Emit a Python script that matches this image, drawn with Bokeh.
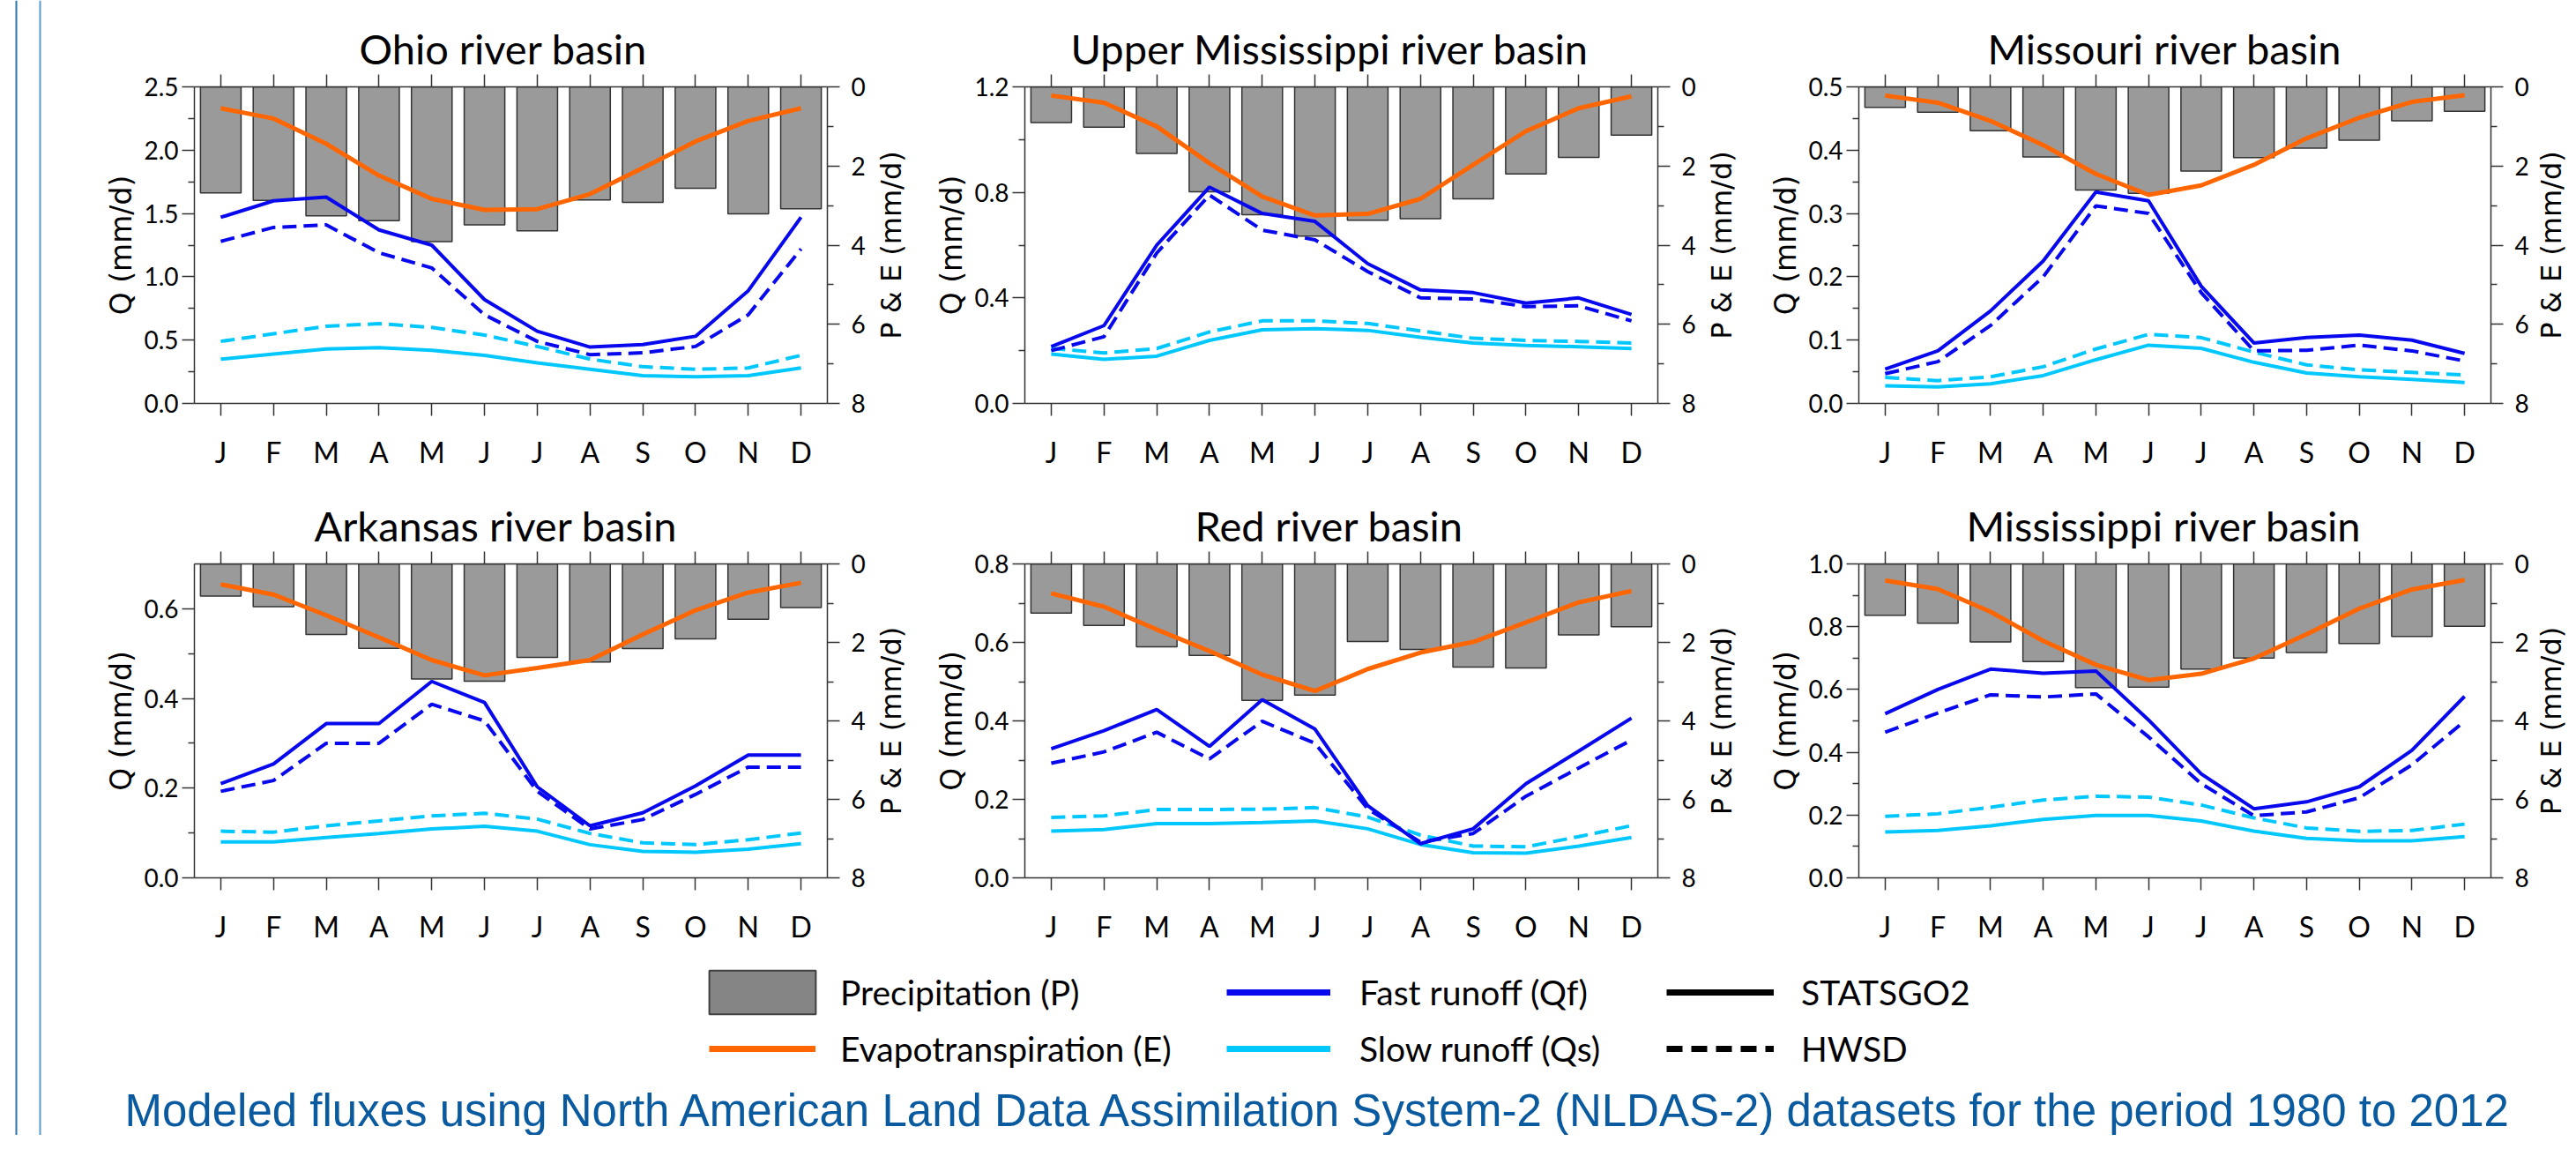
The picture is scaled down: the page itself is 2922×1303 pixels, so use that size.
from bokeh.plotting import figure
from bokeh.models import (Range1d, LinearAxis, FixedTicker, Span, Legend, LegendItem,
                          Title, NumeralTickFormatter)
from bokeh.layouts import row, column
from bokeh.embed import file_html
from bokeh.resources import INLINE

# ---------------- data ----------------
months = list(range(1, 13))
month_labels = ["J", "F", "M", "A", "M", "J", "J", "A", "S", "O", "N", "D"]

basin_names = ["Ohio river basin", "Upper Mississippi river basin", "Missouri river basin",
               "Arkansas river basin", "Red river basin", "Mississippi river basin"]
q_axis_max = [2.5, 1.2, 0.5, 0.7, 0.8, 1.0]
q_axis_step = [0.5, 0.4, 0.1, 0.2, 0.2, 0.2]
pe_ticks = [0, 2, 4, 6, 8]
pe_minor_ticks = [1, 3, 5, 7]

ohio_P = [2.68, 2.87, 3.26, 3.38, 3.91, 3.49, 3.64, 2.86, 2.92, 2.56, 3.21, 3.08]
ohio_E = [0.54, 0.80, 1.44, 2.24, 2.83, 3.11, 3.09, 2.71, 2.05, 1.38, 0.86, 0.54]
ohio_Qf_statsgo = [1.47, 1.60, 1.63, 1.37, 1.25, 0.82, 0.57, 0.445, 0.465, 0.53, 0.89, 1.47]
ohio_Qf_hwsd = [1.28, 1.39, 1.41, 1.19, 1.07, 0.70, 0.49, 0.385, 0.40, 0.45, 0.70, 1.22]
ohio_Qs_statsgo = [0.35, 0.39, 0.43, 0.44, 0.42, 0.38, 0.32, 0.27, 0.22, 0.21, 0.22, 0.28]
ohio_Qs_hwsd = [0.49, 0.55, 0.61, 0.63, 0.60, 0.54, 0.45, 0.35, 0.29, 0.27, 0.28, 0.38]

umiss_P = [0.90, 1.02, 1.68, 2.65, 3.23, 3.77, 3.37, 3.33, 2.83, 2.20, 1.78, 1.22]
umiss_E = [0.22, 0.40, 1.00, 1.93, 2.77, 3.25, 3.21, 2.83, 1.97, 1.12, 0.54, 0.24]
umiss_Qf_statsgo = [0.215, 0.295, 0.60, 0.82, 0.72, 0.69, 0.53, 0.43, 0.42, 0.38, 0.40, 0.337]
umiss_Qf_hwsd = [0.20, 0.253, 0.57, 0.79, 0.657, 0.62, 0.50, 0.40, 0.396, 0.367, 0.37, 0.313]
umiss_Qs_statsgo = [0.187, 0.167, 0.179, 0.239, 0.279, 0.283, 0.277, 0.251, 0.229, 0.220, 0.215, 0.208]
umiss_Qs_hwsd = [0.209, 0.191, 0.208, 0.271, 0.313, 0.313, 0.303, 0.275, 0.247, 0.239, 0.235, 0.229]

missouri_P = [0.52, 0.64, 1.11, 1.77, 2.61, 2.69, 2.13, 1.79, 1.55, 1.35, 0.86, 0.62]
missouri_E = [0.22, 0.40, 0.86, 1.47, 2.20, 2.73, 2.49, 1.97, 1.30, 0.78, 0.38, 0.21]
missouri_Qf_statsgo = [0.054, 0.083, 0.146, 0.225, 0.334, 0.320, 0.185, 0.0955, 0.104, 0.108, 0.100, 0.079]
missouri_Qf_hwsd = [0.047, 0.066, 0.123, 0.200, 0.312, 0.300, 0.175, 0.083, 0.084, 0.092, 0.083, 0.067]
missouri_Qs_statsgo = [0.028, 0.026, 0.031, 0.044, 0.069, 0.092, 0.087, 0.065, 0.048, 0.042, 0.038, 0.033]
missouri_Qs_hwsd = [0.041, 0.036, 0.042, 0.058, 0.086, 0.109, 0.104, 0.081, 0.061, 0.053, 0.049, 0.045]

arkansas_P = [0.82, 1.09, 1.80, 2.15, 2.93, 2.99, 2.38, 2.50, 2.16, 1.91, 1.41, 1.11]
arkansas_E = [0.52, 0.78, 1.31, 1.87, 2.45, 2.84, 2.65, 2.45, 1.80, 1.18, 0.73, 0.48]
arkansas_Qf_statsgo = [0.210, 0.254, 0.344, 0.344, 0.438, 0.391, 0.203, 0.116, 0.145, 0.205, 0.274, 0.274]
arkansas_Qf_hwsd = [0.193, 0.217, 0.300, 0.300, 0.387, 0.350, 0.193, 0.109, 0.130, 0.186, 0.247, 0.247]
arkansas_Qs_statsgo = [0.080, 0.080, 0.090, 0.099, 0.109, 0.115, 0.104, 0.074, 0.059, 0.057, 0.064, 0.076]
arkansas_Qs_hwsd = [0.104, 0.102, 0.116, 0.127, 0.138, 0.144, 0.131, 0.099, 0.078, 0.074, 0.085, 0.100]

red_P = [1.25, 1.57, 2.11, 2.33, 3.48, 3.34, 1.98, 2.18, 2.63, 2.65, 1.81, 1.60]
red_E = [0.75, 1.09, 1.67, 2.22, 2.82, 3.24, 2.68, 2.26, 1.99, 1.49, 0.98, 0.69]
red_Qf_statsgo = [0.329, 0.375, 0.429, 0.335, 0.454, 0.379, 0.184, 0.087, 0.125, 0.240, 0.323, 0.407]
red_Qf_hwsd = [0.292, 0.321, 0.371, 0.303, 0.399, 0.343, 0.176, 0.091, 0.113, 0.208, 0.280, 0.351]
red_Qs_statsgo = [0.119, 0.123, 0.138, 0.138, 0.141, 0.145, 0.125, 0.085, 0.064, 0.063, 0.081, 0.103]
red_Qs_hwsd = [0.154, 0.158, 0.174, 0.174, 0.175, 0.179, 0.155, 0.109, 0.081, 0.079, 0.105, 0.133]

miss_P = [1.31, 1.51, 1.99, 2.49, 3.15, 3.14, 2.68, 2.40, 2.26, 2.03, 1.85, 1.59]
miss_E = [0.42, 0.64, 1.22, 1.96, 2.57, 2.96, 2.80, 2.41, 1.79, 1.14, 0.65, 0.41]
miss_Qf_statsgo = [0.523, 0.600, 0.665, 0.652, 0.659, 0.503, 0.331, 0.220, 0.242, 0.290, 0.406, 0.578]
miss_Qf_hwsd = [0.464, 0.525, 0.583, 0.576, 0.586, 0.449, 0.300, 0.198, 0.210, 0.255, 0.360, 0.499]
miss_Qs_statsgo = [0.146, 0.151, 0.166, 0.186, 0.199, 0.199, 0.181, 0.149, 0.126, 0.118, 0.118, 0.131]
miss_Qs_hwsd = [0.196, 0.204, 0.225, 0.248, 0.260, 0.257, 0.232, 0.191, 0.159, 0.148, 0.151, 0.171]

caption_text = ("Modeled fluxes using North American Land Data Assimilation System-2 "
                "(NLDAS-2) datasets for the period 1980 to 2012")

# ---------------- styles / layout ----------------
C_BAR = "#9a9a9a"
C_E = "#ff6600"
C_FAST = "#0808ee"
C_SLOW = "#00c8ff"
C_AX = "#333333"
DASH = "16 8"
FONT = "Lato"
LABEL_FONT = "DejaVu Sans"
# horizontal offset (px from the frame's left edge) of each panel title
title_offsets = [187, 52, 146, 136, 193, 122]


def make_panel(idx, P, E, qf_s, qf_h, qs_s, qs_h, width, height, bl, br, bt, bb):
    qmax = q_axis_max[idx]
    qstep = q_axis_step[idx]
    n_major = int(round(qmax / qstep))
    majors = [round(i * qstep, 4) for i in range(n_major + 1)]
    minors = [round((i + 0.5) * qstep, 4) for i in range(n_major + 1) if (i + 0.5) * qstep < qmax - 1e-9]

    p = figure(width=width, height=height, x_range=Range1d(0.5, 12.5),
               y_range=Range1d(0, qmax), output_backend="svg", toolbar_location=None,
               min_border_left=bl, min_border_right=br, min_border_top=bt, min_border_bottom=bb,
               title=basin_names[idx])
    p.extra_y_ranges = {"pe": Range1d(8, 0)}
    p.grid.visible = False
    p.outline_line_color = None
    p.background_fill_color = "white"

    p.title.text_font = FONT
    p.title.text_font_size = "47px"
    p.title.text_font_style = "normal"
    p.title.align = "left"
    p.title.offset = title_offsets[idx]
    p.title.standoff = 4
    p.title.text_color = "black"

    # precipitation bars (hanging from top, right axis)
    p.vbar(x=months, top=[0] * 12, bottom=P, width=0.77, y_range_name="pe",
           fill_color=C_BAR, line_color=C_AX, line_width=1.5)
    # runoff lines (left axis) and ET (right axis)
    p.line(months, qs_h, line_color=C_SLOW, line_width=4, line_dash=DASH)
    p.line(months, qs_s, line_color=C_SLOW, line_width=4)
    p.line(months, qf_h, line_color=C_FAST, line_width=4, line_dash=DASH)
    p.line(months, qf_s, line_color=C_FAST, line_width=4)
    p.line(months, E, line_color=C_E, line_width=5, y_range_name="pe")

    # bottom axis
    xa = p.xaxis[0]
    xa.ticker = FixedTicker(ticks=months)
    xa.major_label_overrides = {m: l for m, l in zip(months, month_labels)}
    xa.major_tick_out = 14
    xa.major_tick_in = 0
    xa.minor_tick_line_color = None
    xa.major_label_standoff = 21
    xa.major_label_text_font = FONT
    xa.major_label_text_font_size = "32px"
    xa.major_label_text_color = "black"
    xa.axis_line_color = C_AX
    xa.axis_line_width = 1.5
    xa.major_tick_line_color = C_AX
    xa.major_tick_line_width = 1.5

    # top axis (ticks only)
    ta = LinearAxis(ticker=FixedTicker(ticks=months), major_tick_out=14, major_tick_in=0,
                    minor_tick_line_color=None, major_label_text_font_size="0px",
                    major_label_standoff=0, axis_line_color=C_AX, axis_line_width=1.5,
                    major_tick_line_color=C_AX, major_tick_line_width=1.5)
    ta.major_label_overrides = {m: "" for m in months}
    p.add_layout(ta, "above")

    # left axis
    ya = p.yaxis[0]
    ya.ticker = FixedTicker(ticks=majors, minor_ticks=minors)
    ya.formatter = NumeralTickFormatter(format="0.0")
    ya.major_tick_out = 14
    ya.major_tick_in = 0
    ya.minor_tick_out = 7
    ya.minor_tick_in = 0
    ya.major_label_standoff = 4
    ya.major_label_text_font = FONT
    ya.major_label_text_font_size = "28px"
    ya.major_label_text_color = "black"
    ya.axis_label = "Q (mm/d)"
    ya.axis_label_text_font = LABEL_FONT
    ya.axis_label_text_font_size = "33px"
    ya.axis_label_text_font_style = "normal"
    ya.axis_label_text_color = "black"
    ya.axis_label_standoff = 3
    ya.axis_line_color = C_AX
    ya.axis_line_width = 1.5
    ya.major_tick_line_color = C_AX
    ya.major_tick_line_width = 1.5
    ya.minor_tick_line_color = C_AX
    ya.minor_tick_line_width = 1.5

    # right axis (P & E, inverted)
    ra = LinearAxis(y_range_name="pe", ticker=FixedTicker(ticks=pe_ticks, minor_ticks=pe_minor_ticks),
                    major_tick_out=14, major_tick_in=0, minor_tick_out=7, minor_tick_in=0,
                    major_label_standoff=13, major_label_text_font=FONT,
                    major_label_text_font_size="28px", major_label_text_color="black",
                    axis_line_color=C_AX, axis_line_width=1.5,
                    major_tick_line_color=C_AX, major_tick_line_width=1.5,
                    minor_tick_line_color=C_AX, minor_tick_line_width=1.5)
    p.add_layout(ra, "right")
    return p


def make_pe_title(width, height, bt, bb):
    # narrow strip that carries the right-hand "P & E (mm/d)" title, read bottom-to-top
    q = figure(width=width, height=height, title="P & E (mm/d)", title_location="left",
               x_range=Range1d(0, 1), y_range=Range1d(0, 1), output_backend="svg",
               toolbar_location=None, min_border_left=0, min_border_right=0,
               min_border_top=bt, min_border_bottom=bb,
               x_axis_location=None, y_axis_location=None)
    q.grid.visible = False
    q.outline_line_color = None
    q.title.text_font = LABEL_FONT
    q.title.text_font_size = "32px"
    q.title.text_font_style = "normal"
    q.title.text_color = "black"
    q.title.align = "center"
    q.title.standoff = 0
    return q


# (panel width, min border left, min border right, label strip width)
cols = [(909, 140, 51, 48), (894, 125, 51, 51), (890, 126, 47, 40)]
TOP_H, TOP_BT, TOP_BB = 541, 98, 84
BOT_H, BOT_BT, BOT_BB = 531, 98, 73

series = [
    (ohio_P, ohio_E, ohio_Qf_statsgo, ohio_Qf_hwsd, ohio_Qs_statsgo, ohio_Qs_hwsd),
    (umiss_P, umiss_E, umiss_Qf_statsgo, umiss_Qf_hwsd, umiss_Qs_statsgo, umiss_Qs_hwsd),
    (missouri_P, missouri_E, missouri_Qf_statsgo, missouri_Qf_hwsd, missouri_Qs_statsgo, missouri_Qs_hwsd),
    (arkansas_P, arkansas_E, arkansas_Qf_statsgo, arkansas_Qf_hwsd, arkansas_Qs_statsgo, arkansas_Qs_hwsd),
    (red_P, red_E, red_Qf_statsgo, red_Qf_hwsd, red_Qs_statsgo, red_Qs_hwsd),
    (miss_P, miss_E, miss_Qf_statsgo, miss_Qf_hwsd, miss_Qs_statsgo, miss_Qs_hwsd),
]

top_items, bot_items = [], []
for i, s in enumerate(series):
    w, bl, br, lw = cols[i % 3]
    if i < 3:
        h, bt, bb = TOP_H, TOP_BT, TOP_BB
        target = top_items
    else:
        h, bt, bb = BOT_H, BOT_BT, BOT_BB
        target = bot_items
    target.append(make_panel(i, *s, w, h, bl, br, bt, bb))
    target.append(make_pe_title(lw, h, bt, bb))

# ---------------- legend + caption ----------------
lf = figure(width=2832, height=215, x_range=Range1d(100, 101), y_range=Range1d(100, 101),
            output_backend="svg", toolbar_location=None, min_border=0,
            x_axis_location=None, y_axis_location=None)
lf.grid.visible = False
lf.outline_line_color = None

# legend proxies (hidden renderers; they only supply the legend swatches)
r_p = lf.vbar(x=months, top=ohio_P, width=0.5, fill_color="#858585", line_color="#404040",
              line_width=2, visible=False)
r_e = lf.line(months, ohio_E, line_color=C_E, line_width=7, visible=False)
r_f = lf.line(months, ohio_Qf_statsgo, line_color=C_FAST, line_width=7, visible=False)
r_s = lf.line(months, ohio_Qs_statsgo, line_color=C_SLOW, line_width=7, visible=False)
r_st = lf.line(months, ohio_Qf_statsgo, line_color="black", line_width=7, visible=False)
r_hw = lf.line(months, ohio_Qf_hwsd, line_color="black", line_width=7, line_dash="18 10",
               visible=False)


def mk_legend(label, rend, x, y, gw, gh, standoff):
    lg = Legend(items=[LegendItem(label=label, renderers=[rend])],
                location=(x, y), orientation="vertical", glyph_width=gw, glyph_height=gh,
                spacing=0, padding=0, margin=0, label_standoff=standoff,
                label_text_font=FONT, label_text_font_size="39px", label_text_color="black",
                border_line_color=None, background_fill_alpha=0)
    lf.add_layout(lg, "center")


ROW2_Y = 9
ROW1_Y = ROW2_Y + 63
mk_legend("Precipitation (P)", r_p, 709, ROW1_Y, 151, 62, 13)
mk_legend("Evapotranspiration (E)", r_e, 724, ROW2_Y, 121, 60, 28)
mk_legend("Fast runoff (Qf)", r_f, 1311, ROW1_Y + 1, 118, 60, 33)
mk_legend("Slow runoff (Qs)", r_s, 1311, ROW2_Y, 118, 60, 33)
mk_legend("STATSGO2", r_st, 1810, ROW1_Y + 1, 122, 60, 31)
mk_legend("HWSD", r_hw, 1810, ROW2_Y, 122, 60, 31)

cap = Title(text=caption_text, align="center", text_font="Liberation Sans",
            text_font_size="51px", text_font_style="normal", text_color="#0a5aa0", standoff=0)
lf.add_layout(cap, "below")

# ---------------- left poster border ----------------
bf = figure(width=80, height=1287, x_range=Range1d(8, 88), y_range=Range1d(0, 1),
            output_backend="svg", toolbar_location=None, min_border=0,
            x_axis_location=None, y_axis_location=None)
bf.grid.visible = False
bf.outline_line_color = None
bf.add_layout(Span(location=26, dimension="height", line_color="#2e75b6", line_width=2))
bf.add_layout(Span(location=53, dimension="height", line_color="#5b9bd5", line_width=2))

layout = row(bf, column(row(*top_items), row(*bot_items), lf))

open("out.html", "w").write(file_html(layout, INLINE))
